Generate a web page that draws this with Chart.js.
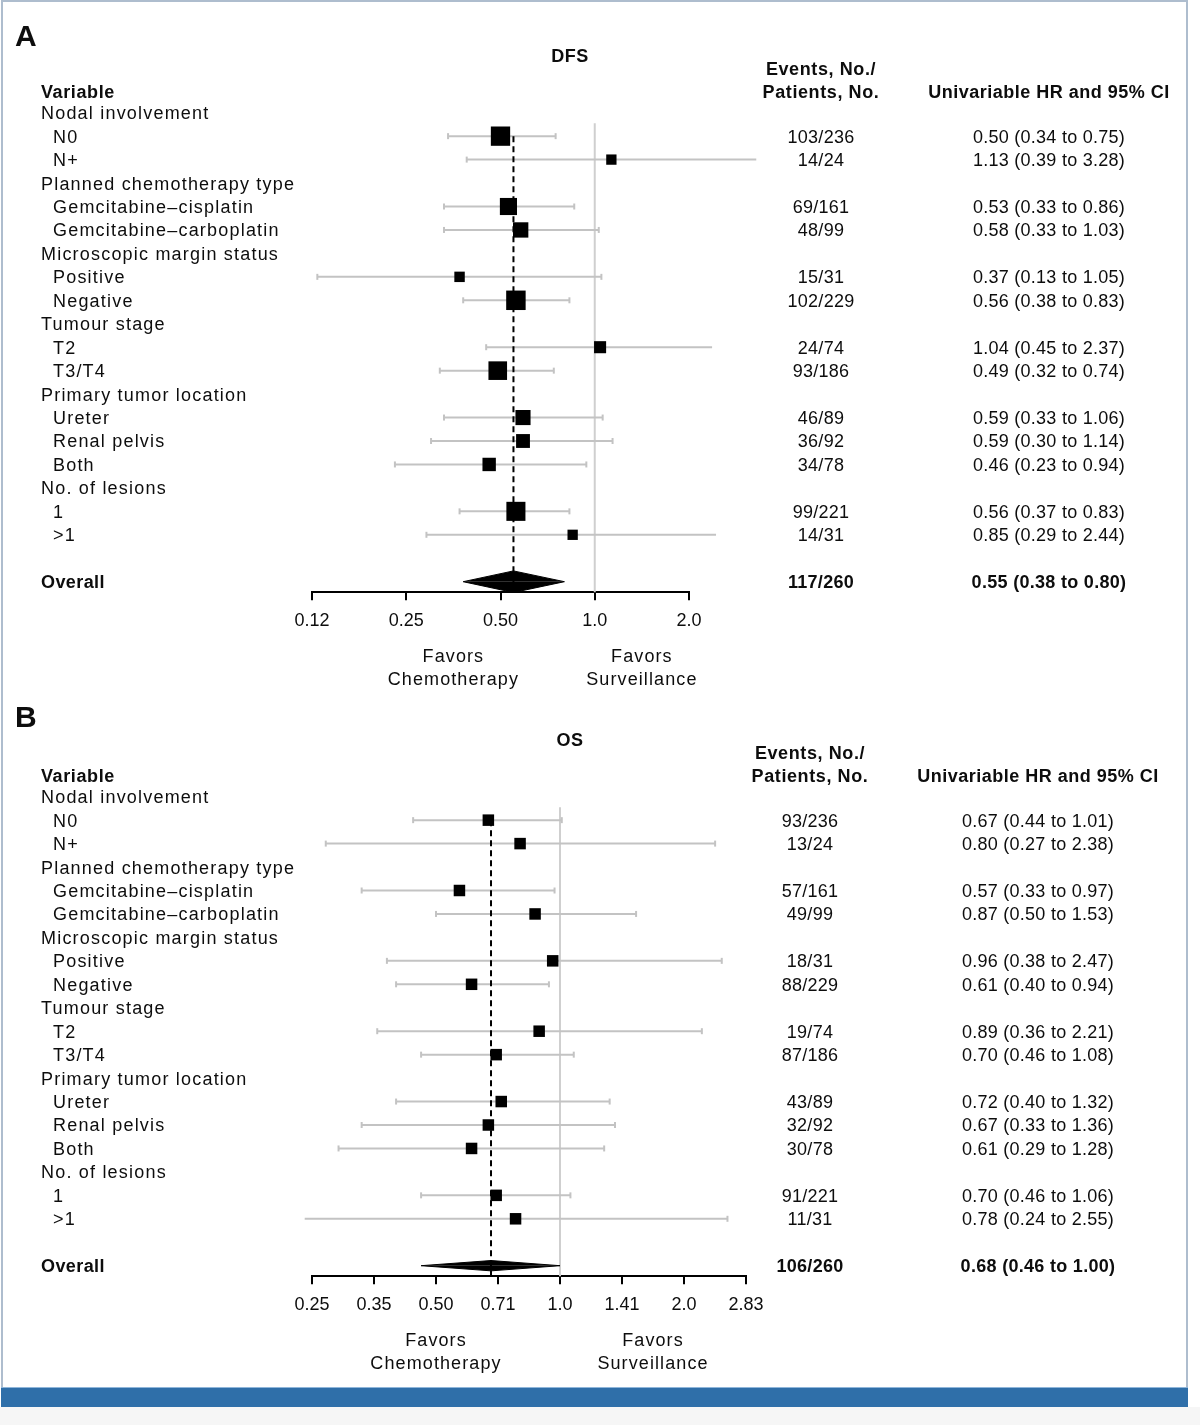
<!DOCTYPE html>
<html>
<head>
<meta charset="utf-8">
<title>DFS / OS forest plot</title>
<script src="https://cdn.jsdelivr.net/npm/chart.js@4.4.1/dist/chart.umd.min.js"></script>
<style>
  html, body { margin: 0; padding: 0; background: #fff; }
  #page { position: relative; width: 1200px; height: 1425px; overflow: hidden; }
  #frame { position: absolute; left: 1px; top: 0; width: 1187px; height: 1388px; box-sizing: border-box; border: 2px solid #aebdce; border-bottom: none; }
  #bar { position: absolute; left: 1px; top: 1387px; width: 1187px; height: 20px; background: #2f6fa9; border-top: 1px solid #8fb6da; box-sizing: border-box; }
  #foot { position: absolute; left: 0; top: 1407px; width: 1200px; height: 18px; background: #f6f6f6; }
  canvas { position: absolute; left: 0; }
</style>
</head>
<body>
<div id="page">
  <div id="frame"></div>
  <canvas id="dfsChart" width="1200" height="700" style="top:0"></canvas>
  <canvas id="osChart" width="1200" height="700" style="top:684px"></canvas>
  <div id="bar"></div>
  <div id="foot"></div>
</div>
<script>
const FONT = '"Liberation Sans", Arial, Helvetica, sans-serif';

// rows shared by both panels
const rowLabels = ['Nodal involvement', 'N0', 'N+', 'Planned chemotherapy type', 'Gemcitabine–cisplatin', 'Gemcitabine–carboplatin',
  'Microscopic margin status', 'Positive', 'Negative', 'Tumour stage', 'T2', 'T3/T4',
  'Primary tumor location', 'Ureter', 'Renal pelvis', 'Both', 'No. of lesions', '1', '>1'];
const rowIsGroup = [1, 0, 0, 1, 0, 0, 1, 0, 0, 1, 0, 0, 1, 0, 0, 0, 1, 0, 0];
const patients = [null, 236, 24, null, 161, 99, null, 31, 229, null, 74, 186, null, 89, 92, 78, null, 221, 31];

// A - DFS
const dfsEvents = [null, 103, 14, null, 69, 48, null, 15, 102, null, 24, 93, null, 46, 36, 34, null, 99, 14];
const dfsHR   = [null, 0.50, 1.13, null, 0.53, 0.58, null, 0.37, 0.56, null, 1.04, 0.49, null, 0.59, 0.59, 0.46, null, 0.56, 0.85];
const dfsLow  = [null, 0.34, 0.39, null, 0.33, 0.33, null, 0.13, 0.38, null, 0.45, 0.32, null, 0.33, 0.30, 0.23, null, 0.37, 0.29];
const dfsHigh = [null, 0.75, 3.28, null, 0.86, 1.03, null, 1.05, 0.83, null, 2.37, 0.74, null, 1.06, 1.14, 0.94, null, 0.83, 2.44];
const dfsOverall = { events: 117, patients: 260, hr: 0.55, low: 0.38, high: 0.80 };
const dfsTicks = [0.125, 0.25, 0.5, 1, 2];
const dfsTickLabels = ['0.12', '0.25', '0.50', '1.0', '2.0'];

// B - OS
const osEvents = [null, 93, 13, null, 57, 49, null, 18, 88, null, 19, 87, null, 43, 32, 30, null, 91, 11];
const osHR   = [null, 0.67, 0.80, null, 0.57, 0.87, null, 0.96, 0.61, null, 0.89, 0.70, null, 0.72, 0.67, 0.61, null, 0.70, 0.78];
const osLow  = [null, 0.44, 0.27, null, 0.33, 0.50, null, 0.38, 0.40, null, 0.36, 0.46, null, 0.40, 0.33, 0.29, null, 0.46, 0.24];
const osHigh = [null, 1.01, 2.38, null, 0.97, 1.53, null, 2.47, 0.94, null, 2.21, 1.08, null, 1.32, 1.36, 1.28, null, 1.06, 2.55];
const osOverall = { events: 106, patients: 260, hr: 0.68, low: 0.46, high: 1.00 };
const osTicks = [0.25, 0.3536, 0.5, 0.7071, 1, 1.4142, 2, 2.8284];
const osTickLabels = ['0.25', '0.35', '0.50', '0.71', '1.0', '1.41', '2.0', '2.83'];

// layout
const ROW_H = 23.45;
const FIRST_ROW = 112.7;
const Y_MIN = -1.5, Y_MAX = 20.45;
const OVERALL_ROW = 20;
const AXIS_H = 40;
const CANVAS_H = 700;
const TEXT_DY = 1.5;
const CI_GREY = '#c3c3c3';

function fmtHR(hr, lo, hi) {
  return hr.toFixed(2) + ' (' + lo.toFixed(2) + ' to ' + hi.toFixed(2) + ')';
}

function tablePlugin(p) {
  return {
    id: 'forestTable',
    afterDraw(chart) {
      const ctx = chart.ctx;
      const y = r => chart.scales.y.getPixelForValue(r) + TEXT_DY;
      const x = v => chart.scales.x.getPixelForValue(v);
      const put = (s, px, py, align, weight, size, spacing) => {
        ctx.font = weight + ' ' + size + 'px ' + FONT;
        ctx.letterSpacing = spacing + 'px';
        ctx.textAlign = align;
        ctx.fillText(s, px, py);
      };
      ctx.save();
      ctx.fillStyle = '#0d0d0d';
      ctx.textBaseline = 'middle';

      put(p.letter, 15, y(p.letterRow), 'left', 'bold', 30, 0);
      put(p.title, 570, y(-2.45), 'center', 'bold', 18, 0.5);
      put('Variable', 41, y(-0.9), 'left', 'bold', 18, 0.6);
      put('Events, No./', p.eventsX, y(-1.9), 'center', 'bold', 18, 0.6);
      put('Patients, No.', p.eventsX, y(-0.9), 'center', 'bold', 18, 0.6);
      put('Univariable HR and 95% CI', p.hrX, y(-0.9), 'center', 'bold', 18, 0.5);

      rowLabels.forEach((label, i) => {
        put(label, rowIsGroup[i] ? 41 : 53, y(i), 'left', 'normal', 18, 1.2);
        if (p.hr[i] != null) {
          put(p.events[i] + '/' + patients[i], p.eventsX, y(i), 'center', 'normal', 18, 0.25);
          put(fmtHR(p.hr[i], p.low[i], p.high[i]), p.hrX, y(i), 'center', 'normal', 18, 0.25);
        }
      });

      const o = p.overall;
      put('Overall', 41, y(OVERALL_ROW), 'left', 'bold', 18, 0.4);
      put(o.events + '/' + o.patients, p.eventsX, y(OVERALL_ROW), 'center', 'bold', 18, 0.3);
      put(fmtHR(o.hr, o.low, o.high), p.hrX, y(OVERALL_ROW), 'center', 'bold', 18, 0.3);

      const area = chart.chartArea;
      const cL = (area.left + x(1)) / 2;
      const cR = (x(1) + area.right) / 2;
      put('Favors', cL, y(23.15), 'center', 'normal', 18, 1.1);
      put('Chemotherapy', cL, y(24.12), 'center', 'normal', 18, 1.1);
      put('Favors', cR, y(23.15), 'center', 'normal', 18, 1.1);
      put('Surveillance', cR, y(24.12), 'center', 'normal', 18, 1.1);
      ctx.restore();
    }
  };
}

function buildPanel(canvasId, p) {
  const rows = p.hr.map((v, i) => i).filter(i => p.hr[i] != null);
  const o = p.overall;
  const h = p.diamondHalf;

  const datasets = [];
  // reference line at HR = 1
  datasets.push({
    data: [{ x: 1, y: 0.45 }, { x: 1, y: Y_MAX }],
    showLine: true, borderColor: '#cfcfcf', borderWidth: 2, pointRadius: 0, clip: false, order: 4
  });
  // CI whiskers
  rows.forEach(i => {
    datasets.push({
      data: [{ x: p.low[i], y: i }, { x: p.high[i], y: i }],
      showLine: true, borderColor: CI_GREY, borderWidth: 2,
      pointStyle: 'line', pointRotation: 90, pointRadius: 3,
      pointBorderColor: CI_GREY, pointBorderWidth: 2, clip: false, order: 3
    });
  });
  // overall estimate, dashed
  datasets.push({
    data: [{ x: o.hr, y: 1 }, { x: o.hr, y: Y_MAX }],
    showLine: true, borderColor: '#000', borderWidth: 2, borderDash: [6, 4], pointRadius: 0, clip: false, order: 2
  });
  // overall diamond, two halves filled to the overall row
  [-h, h].forEach(d => {
    datasets.push({
      data: [{ x: o.low, y: OVERALL_ROW }, { x: o.hr, y: OVERALL_ROW + d }, { x: o.high, y: OVERALL_ROW }],
      showLine: true, borderColor: '#000', borderWidth: 1, backgroundColor: '#000',
      fill: { value: OVERALL_ROW }, pointRadius: 0, clip: false, order: 1
    });
  });
  // point estimates
  datasets.push({
    data: rows.map(i => ({ x: p.hr[i], y: i })),
    pointStyle: 'rect',
    pointRadius: c => p.box(rows[c.dataIndex]) / Math.SQRT2,
    pointBackgroundColor: '#000', pointBorderWidth: 0, showLine: false, clip: false, order: 0
  });

  const top = FIRST_ROW + Y_MIN * ROW_H;
  const bottom = FIRST_ROW + Y_MAX * ROW_H;

  return new Chart(document.getElementById(canvasId), {
    type: 'scatter',
    data: { datasets },
    options: {
      responsive: false,
      animation: false,
      events: [],
      layout: { padding: { left: 312, right: 1200 - p.right, top: top, bottom: CANVAS_H - bottom - AXIS_H } },
      plugins: { legend: { display: false }, tooltip: { enabled: false } },
      scales: {
        x: {
          type: 'logarithmic',
          min: p.ticks[0],
          max: p.ticks[p.ticks.length - 1],
          bounds: 'data',
          afterBuildTicks: s => { s.ticks = p.ticks.map(v => ({ value: v })); },
          afterFit: s => { s.height = AXIS_H; },
          ticks: {
            autoSkip: false, maxRotation: 0, padding: 10, color: '#0d0d0d',
            font: { family: FONT, size: 18 },
            callback: (v, i) => p.tickLabels[i]
          },
          grid: { drawOnChartArea: false, drawTicks: true, tickLength: 8, color: '#000', lineWidth: 2 },
          border: { display: true, color: '#000', width: 2 }
        },
        y: { type: 'linear', reverse: true, min: Y_MIN, max: Y_MAX, display: false }
      }
    },
    plugins: [tablePlugin(p)]
  });
}

function boxFromCI(lo, hi) {
  const se = Math.log(hi / lo) / 3.92;
  return 7.0 * Math.pow(se, -0.634);
}

buildPanel('dfsChart', {
  letter: 'A', letterRow: -3.25, title: 'DFS',
  events: dfsEvents, hr: dfsHR, low: dfsLow, high: dfsHigh, overall: dfsOverall,
  ticks: dfsTicks, tickLabels: dfsTickLabels, right: 689,
  eventsX: 821, hrX: 1049, diamondHalf: 0.46,
  box: i => boxFromCI(dfsLow[i], dfsHigh[i])
});

buildPanel('osChart', {
  letter: 'B', letterRow: -3.4, title: 'OS',
  events: osEvents, hr: osHR, low: osLow, high: osHigh, overall: osOverall,
  ticks: osTicks, tickLabels: osTickLabels, right: 746,
  eventsX: 810, hrX: 1038, diamondHalf: 0.22,
  box: () => 11.5
});
</script>
</body>
</html>
